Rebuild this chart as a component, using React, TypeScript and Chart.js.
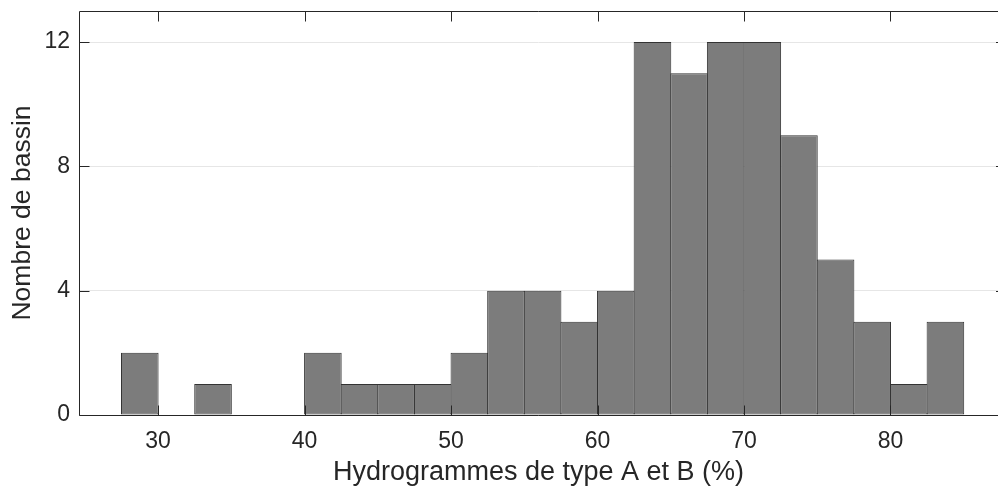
import React, { useEffect, useRef } from "react";
import { Chart, registerables } from "chart.js";

Chart.register(...registerables);

// Histogram bins (width 2.5 %) and the number of basins in each
const binCenters = [
  28.75, 31.25, 33.75, 36.25, 38.75, 41.25, 43.75, 46.25, 48.75, 51.25, 53.75, 56.25,
  58.75, 61.25, 63.75, 66.25, 68.75, 71.25, 73.75, 76.25, 78.75, 81.25, 83.75,
];
const counts = [2, 0, 1, 0, 0, 2, 1, 1, 1, 2, 4, 4, 3, 4, 12, 11, 12, 12, 9, 5, 3, 1, 3];
const binWidth = 2.5;

const xTicks = [30, 40, 50, 60, 70, 80];
const yTicks = [0, 4, 8, 12];
const xRange = [24.6, 87.34];
const yRange = [0, 13];

const xLabel = "Hydrogrammes de type A et B (%)";
const yLabel = "Nombre de bassin";

const FONT = "'Liberation Sans', Arial, Helvetica, sans-serif";
const INK = "#262626";

// Axes box with inward tick marks, drawn over the bars
const boxPlugin = {
  id: "axesBox",
  afterDatasetsDraw(chart: any) {
    const { ctx, chartArea: a, scales } = chart;
    const sx = scales.x;
    const sy = scales.y;
    const L = Math.round(a.left) + 0.5;
    const B = Math.round(a.bottom) + 0.5;
    const T = Math.round(a.top) + 0.5;
    const R = chart.width;
    const len = 10;
    ctx.save();
    ctx.strokeStyle = INK;
    ctx.lineWidth = 1;
    ctx.beginPath();
    ctx.moveTo(L, T);
    ctx.lineTo(L, B);
    ctx.lineTo(R, B);
    ctx.moveTo(L, T);
    ctx.lineTo(R, T);
    for (const v of xTicks) {
      const px = Math.round(sx.getPixelForValue(v)) + 0.5;
      ctx.moveTo(px, B);
      ctx.lineTo(px, B - len);
      ctx.moveTo(px, T);
      ctx.lineTo(px, T + len);
    }
    for (const v of yTicks) {
      const py = Math.round(sy.getPixelForValue(v)) + 0.5;
      ctx.moveTo(L, py);
      ctx.lineTo(L + len, py);
      ctx.moveTo(R, py);
      ctx.lineTo(R - 2, py);
    }
    ctx.stroke();
    ctx.restore();
  },
};

export default function App() {
  const canvasRef = useRef<HTMLCanvasElement | null>(null);

  useEffect(() => {
    const canvas = canvasRef.current;
    if (!canvas) return;
    const chart = new Chart(canvas, {
      type: "bar",
      data: {
        datasets: [
          {
            data: binCenters.map((x, i) => ({ x, y: counts[i] })),
            backgroundColor: "#7c7c7c",
            borderColor: "#333333",
            borderWidth: 1,
            borderSkipped: false,
            barPercentage: (binWidth + 0.068) / binWidth,
            categoryPercentage: 1,
          },
        ],
      },
      options: {
        animation: false,
        responsive: false,
        devicePixelRatio: 1,
        layout: { padding: { left: 0, top: 11, right: 0, bottom: 0 } },
        plugins: {
          legend: { display: false },
          tooltip: { enabled: false },
        },
        scales: {
          x: {
            type: "linear",
            min: xRange[0],
            max: xRange[1],
            offset: false,
            afterBuildTicks: (s: any) => {
              s.ticks = xTicks.map((v) => ({ value: v }));
            },
            afterFit: (s: any) => {
              s.height = 74;
              s.paddingLeft = 0;
              s.paddingRight = 0;
            },
            grid: { display: false, drawTicks: false, offset: false },
            border: { display: false },
            ticks: {
              color: INK,
              padding: 13,
              maxRotation: 0,
              autoSkip: false,
              font: { family: FONT, size: 23 },
            },
            title: {
              display: true,
              text: xLabel,
              color: INK,
              padding: { top: 0, bottom: 0 },
              font: { family: FONT, size: 27 },
            },
          },
          y: {
            type: "linear",
            min: yRange[0],
            max: yRange[1],
            afterBuildTicks: (s: any) => {
              s.ticks = yTicks.map((v) => ({ value: v }));
            },
            afterFit: (s: any) => {
              s.width = 79;
              s.paddingTop = 0;
              s.paddingBottom = 0;
            },
            grid: { color: "#e6e6e6", lineWidth: 1, drawTicks: false },
            border: { display: false },
            ticks: {
              color: INK,
              padding: 9,
              font: { family: FONT, size: 23 },
            },
            title: {
              display: true,
              text: yLabel,
              color: INK,
              padding: { top: 7, bottom: 0 },
              font: { family: FONT, size: 26.5 },
            },
          },
        },
      },
      plugins: [boxPlugin],
    });
    return () => chart.destroy();
  }, []);

  return (
    <div
      style={{
        position: "fixed",
        left: 0,
        top: 0,
        width: 998,
        height: 489,
        background: "#ffffff",
        overflow: "hidden",
      }}
    >
      <canvas ref={canvasRef} width={998} height={489} style={{ display: "block" }} />
    </div>
  );
}
